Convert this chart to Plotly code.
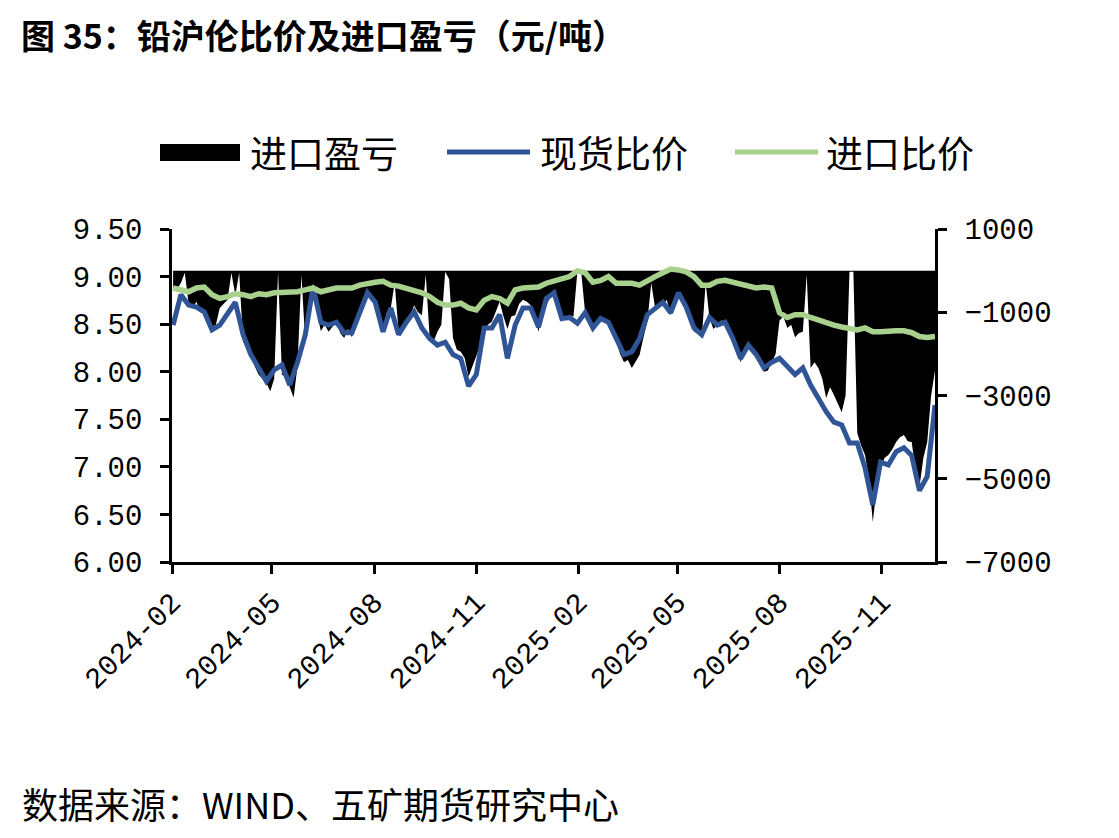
import plotly.graph_objs as go
import pandas as pd

# values
dates = pd.date_range("2024-02-02", periods=99, freq="7D")          # weekly, for the ratio lines
profit_dates = pd.date_range("2024-02-02", periods=197, freq="84h")  # twice a week, for the area

spot_ratio = [
    8.49, 8.81, 8.70, 8.68, 8.63, 8.44, 8.49, 8.62, 8.73, 8.39,
    8.18, 8.04, 7.90, 8.02, 8.07, 7.86, 8.10, 8.39, 8.89, 8.52,
    8.49, 8.52, 8.41, 8.41, 8.63, 8.83, 8.73, 8.42, 8.67, 8.39,
    8.52, 8.63, 8.46, 8.35, 8.28, 8.31, 8.18, 8.14, 7.85, 7.97,
    8.46, 8.46, 8.60, 8.14, 8.49, 8.67, 8.67, 8.47, 8.77, 8.83,
    8.56, 8.57, 8.51, 8.62, 8.46, 8.56, 8.52, 8.36, 8.18, 8.21,
    8.35, 8.60, 8.67, 8.73, 8.62, 8.83, 8.68, 8.46, 8.39, 8.57,
    8.49, 8.52, 8.35, 8.14, 8.28, 8.18, 8.04, 8.10, 8.14, 8.06,
    7.97, 8.04, 7.86, 7.72, 7.58, 7.47, 7.44, 7.25, 7.25, 6.99,
    6.60, 7.05, 7.02, 7.16, 7.20, 7.12, 6.75, 6.90, 7.65,
]

import_ratio = [
    8.88, 8.86, 8.84, 8.88, 8.89, 8.81, 8.77, 8.79, 8.82, 8.81,
    8.79, 8.82, 8.81, 8.83, 8.83, 8.83, 8.84, 8.86, 8.88, 8.84,
    8.86, 8.88, 8.88, 8.88, 8.91, 8.93, 8.94, 8.95, 8.91, 8.90,
    8.88, 8.86, 8.83, 8.79, 8.73, 8.70, 8.70, 8.72, 8.67, 8.65,
    8.75, 8.79, 8.77, 8.72, 8.86, 8.88, 8.89, 8.89, 8.93, 8.95,
    8.97, 9.00, 9.06, 9.04, 8.94, 8.96, 9.00, 8.93, 8.93, 8.93,
    8.91, 8.96, 9.00, 9.04, 9.08, 9.07, 9.05, 9.00, 8.91, 8.91,
    8.95, 8.96, 8.94, 8.92, 8.90, 8.88, 8.89, 8.88, 8.62, 8.57,
    8.60, 8.60, 8.57, 8.54, 8.51, 8.49, 8.47, 8.45, 8.44, 8.46,
    8.42, 8.42, 8.43, 8.43, 8.43, 8.41, 8.37, 8.36, 8.37,
]

import_profit = [
    -400, -450, -300, -50, -800, -900, -750, -1000, -1000, -1100,
    -1350, -1300, -900, -800, -700, -50, -600, -50, -1700, -1900,
    -2050, -2300, -2500, -2600, -2700, -2900, -2600, -30, -2500, -2550,
    -2800, -3050, -2300, -100, -1700, -1200, -300, -1000, -1450, -1300,
    -1470, -1350, -1230, -1500, -1620, -1400, -1600, -1300, -990, -700,
    -590, -650, -900, -1100, -1470, -1000, -900, -300, -1470, -1300,
    -1230, -1100, -830, -1000, -1070, -100, -1620, -1700, -1470, -1300,
    -30, -200, -1620, -1900, -1950, -2100, -2550, -2300, -2030, -1800,
    -1470, -1300, -1230, -1000, -750, -1100, -1400, -1100, -1070, -800,
    -700, -750, -830, -1100, -1470, -1000, -830, -650, -590, -900,
    -1230, -1100, -1070, -1100, -30, -50, -1020, -1200, -1470, -1300,
    -1230, -1150, -1230, -1400, -1710, -2000, -2200, -2150, -2340, -2200,
    -2030, -1600, -1230, -300, -900, -850, -830, -700, -1070, -800,
    -510, -700, -830, -1100, -1470, -1500, -1620, -300, -1150, -1400,
    -1310, -1200, -1230, -1400, -1620, -1900, -2200, -1900, -1710, -1900,
    -2030, -2200, -2430, -2400, -2200, -2000, -1200, -1100, -1380, -1300,
    -1600, -1500, -1470, -100, -2340, -2200, -2340, -2600, -3060, -2800,
    -2990, -3200, -3400, -3000, -30, -30, -3900, -4200, -4430, -5000,
    -6040, -5200, -4740, -4500, -4430, -4300, -4120, -4000, -3950, -4100,
    -4120, -4800, -5200, -4500, -4120, -3000, -2400,
]

left_ticks = [6.0, 6.5, 7.0, 7.5, 8.0, 8.5, 9.0, 9.5]
right_ticks = [-7000, -5000, -3000, -1000, 1000]

CJK = "Noto Sans CJK SC"
NUM = "Liberation Mono"
BLUE = "#2f5597"
GREEN = "#a9d18e"

# the page body has an 8px margin; plot area on screen is x 172..935, y 229..562
OFF = 8
W, H = 1119 - OFF, 838 - OFF
L, R, T, B = 172, 935, 229, 562


def px(x):
    return (x - L) / (R - L)


def py(y):
    return (B - y) / (B - T)


fig = go.Figure()

# profit area on y (right side) so the ratio lines on y2 are drawn over it
fig.add_trace(go.Scatter(x=profit_dates, y=import_profit, name="进口盈亏", mode="lines",
                         line=dict(width=0, color="black"), fill="tozeroy",
                         fillcolor="black", yaxis="y"))
fig.add_trace(go.Scatter(x=dates, y=spot_ratio, name="现货比价", mode="lines",
                         line=dict(width=5, color=BLUE), yaxis="y2"))
fig.add_trace(go.Scatter(x=dates, y=import_ratio, name="进口比价", mode="lines",
                         line=dict(width=5.5, color=GREEN), yaxis="y2"))

axis_style = dict(showgrid=False, zeroline=False, showline=True, linecolor="black",
                  linewidth=2.5, ticks="outside", ticklen=9, tickwidth=2.5,
                  tickcolor="black", tickfont=dict(family=NUM, size=29, color="black"))

fig.update_layout(
    width=W, height=H,
    margin=dict(l=L - OFF, r=W - (R - OFF), t=T - OFF, b=H - (B - OFF)),
    paper_bgcolor="white", plot_bgcolor="white",
    showlegend=False,
    xaxis=dict(type="date", range=["2024-02-01", "2025-12-19"], tick0="2024-02-01",
               dtick="M3", tickformat="%Y-%m", tickangle=-45, **axis_style),
    yaxis=dict(side="right", range=[-7000, 1000], tickvals=right_ticks,
               ticklabelstandoff=12, **axis_style),
    yaxis2=dict(side="left", overlaying="y", range=[6, 9.5], tickvals=left_ticks,
                tickformat=".2f", ticklabelstandoff=12, **axis_style),
)

# title as an annotation, kept inside the figure's top edge
fig.add_annotation(x=px(20), y=py(9), xref="paper", yref="paper",
                   text="<b>图 35：铅沪伦比价及进口盈亏（元/吨）</b>", showarrow=False,
                   xanchor="left", yanchor="top", borderpad=0,
                   font=dict(family=CJK, size=34, color="black"))

# hand-drawn legend to get the wide swatches of the original
leg_y = py(152)
fig.add_shape(type="rect", xref="paper", yref="paper", x0=px(160), x1=px(240),
              y0=py(161), y1=py(144), fillcolor="black", line=dict(width=0))
fig.add_shape(type="line", xref="paper", yref="paper", x0=px(447), x1=px(530),
              y0=leg_y, y1=leg_y, line=dict(color=BLUE, width=5))
fig.add_shape(type="line", xref="paper", yref="paper", x0=px(735), x1=px(818),
              y0=leg_y, y1=leg_y, line=dict(color=GREEN, width=5))
for x0, label in [(248, "进口盈亏"), (538, "现货比价"), (824, "进口比价")]:
    fig.add_annotation(x=px(x0), y=leg_y, xref="paper", yref="paper", text=label,
                       showarrow=False, xanchor="left", yanchor="middle",
                       font=dict(family=CJK, size=37, color="black"))

fig.add_annotation(x=px(20), y=py(803), xref="paper", yref="paper",
                   text="数据来源：WIND、五矿期货研究中心", showarrow=False,
                   xanchor="left", yanchor="middle",
                   font=dict(family=CJK, size=36, color="black"))

fig.write_html("out.html")
